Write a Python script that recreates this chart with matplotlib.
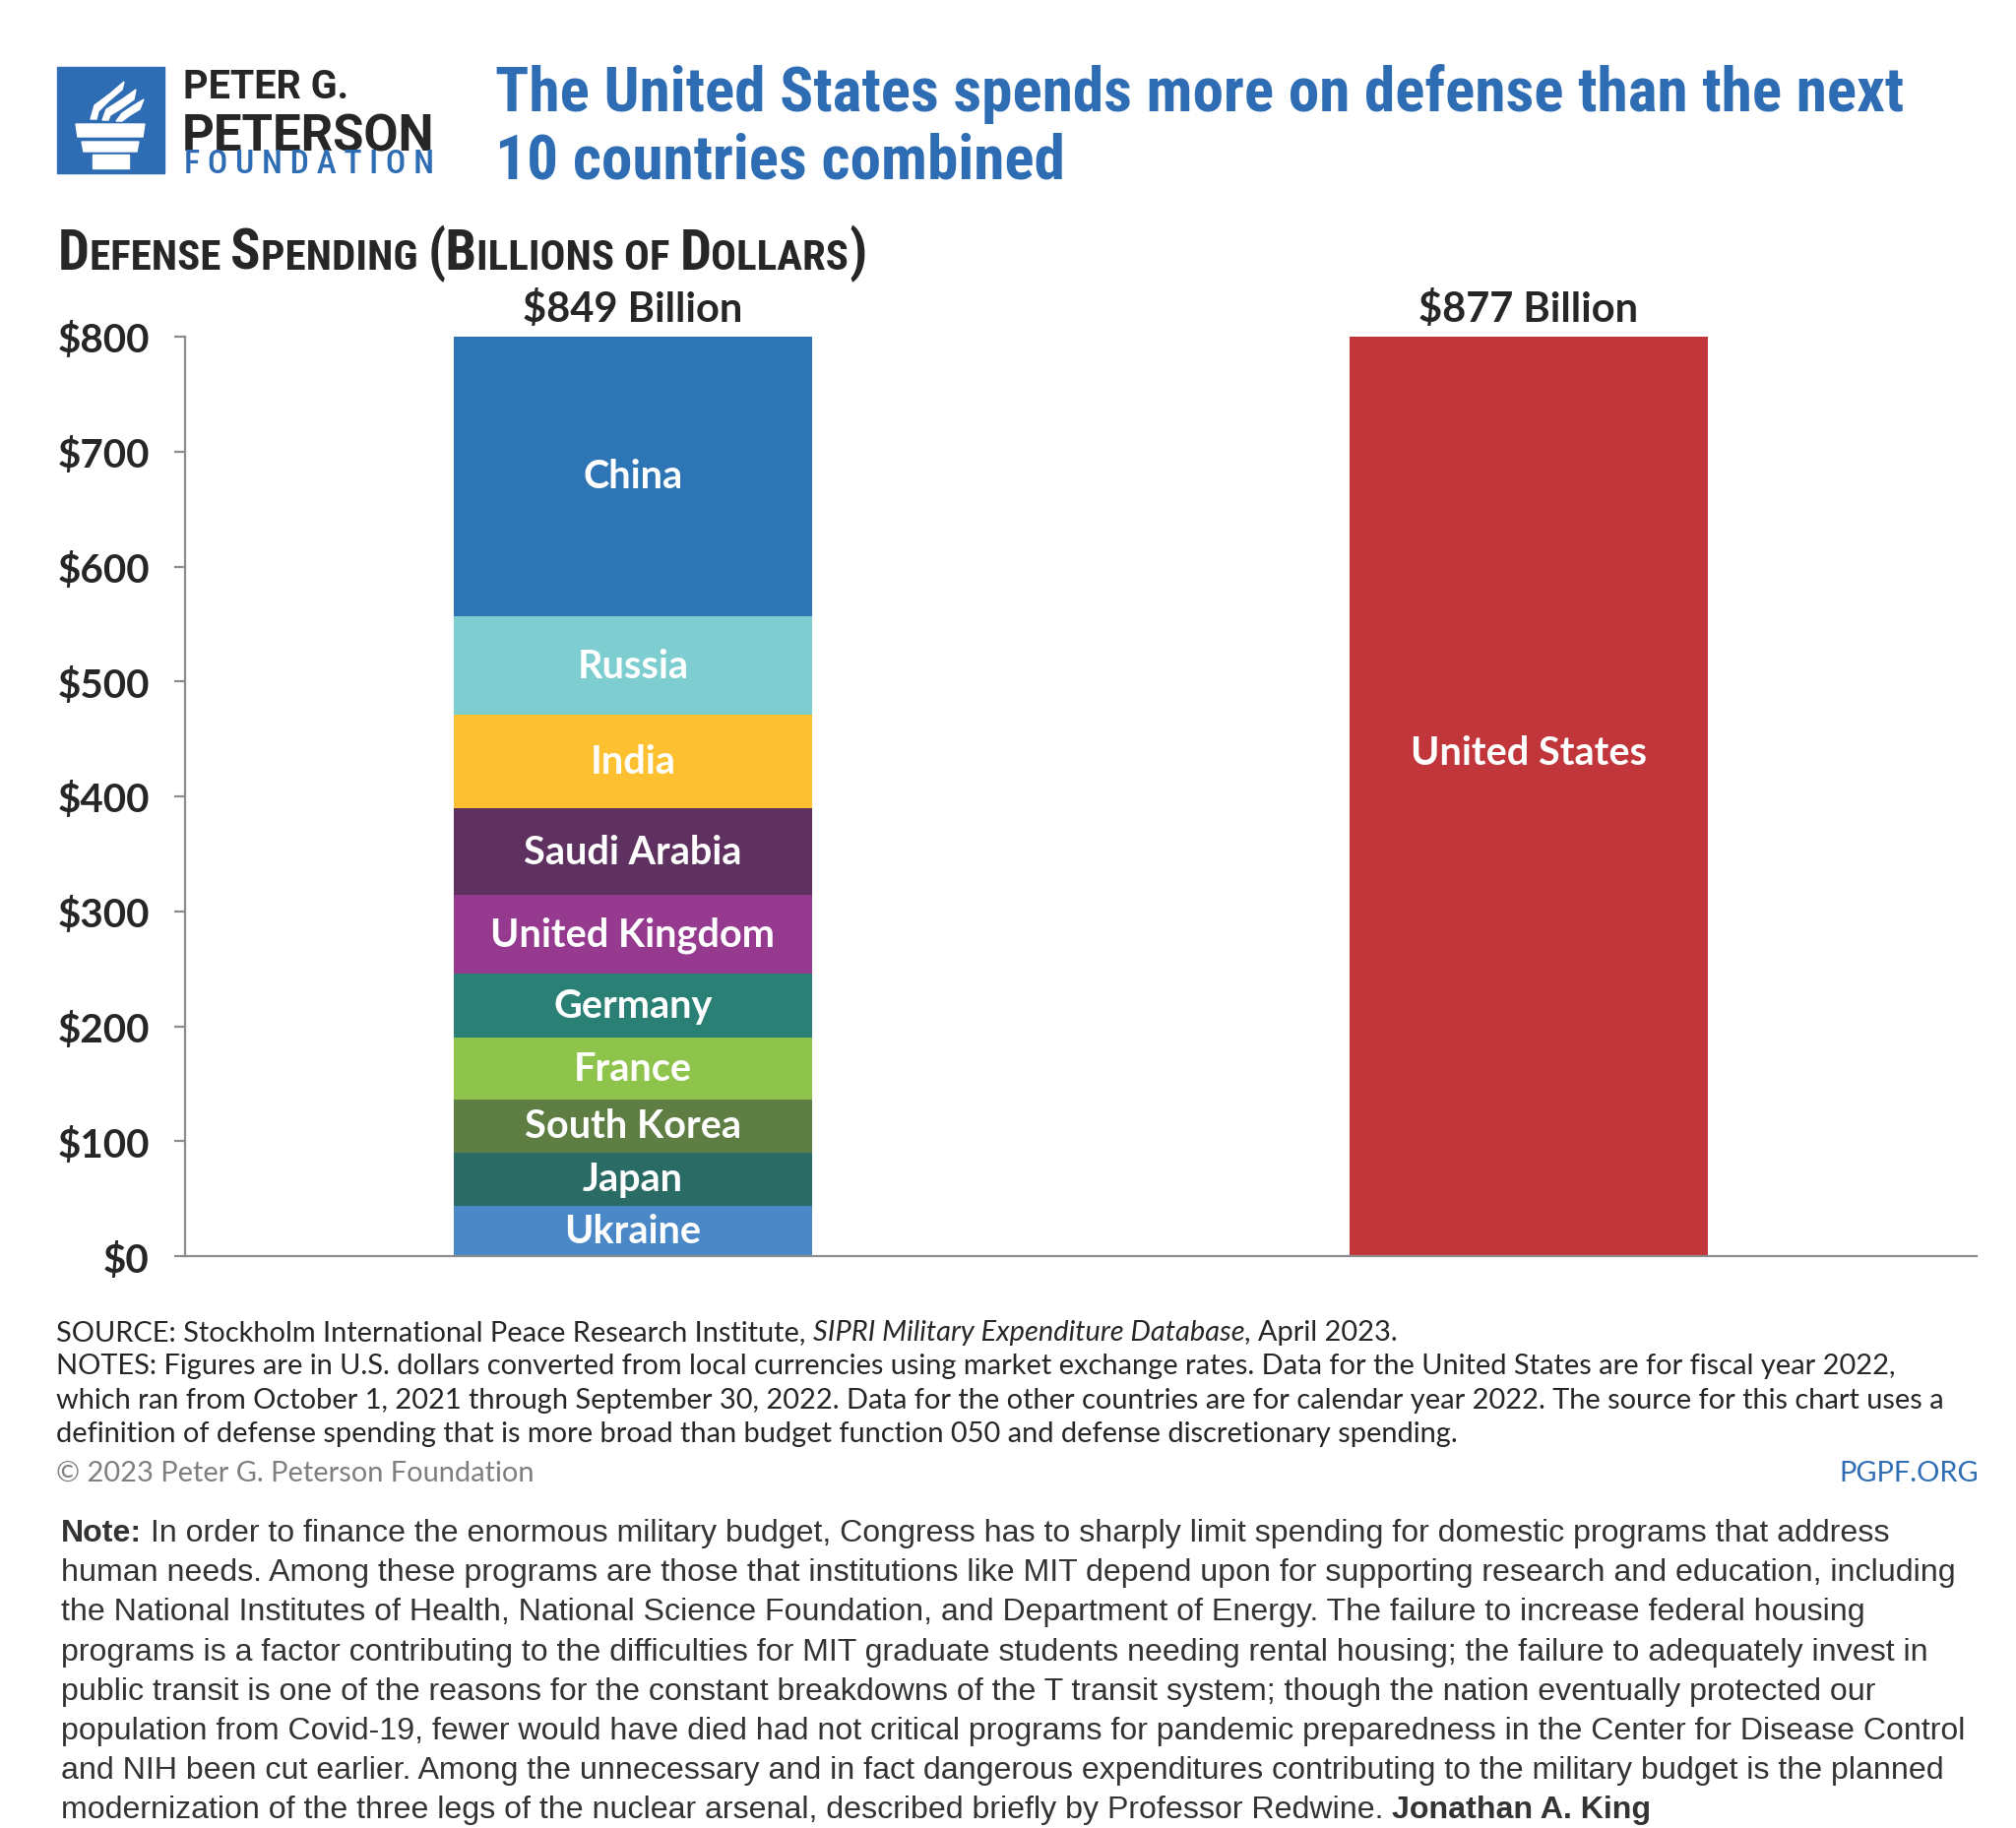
import numpy as np
import matplotlib
matplotlib.use("Agg")
import matplotlib.pyplot as plt
from matplotlib import font_manager
from matplotlib.patches import Rectangle, Polygon

# data (billions of dollars, 2022)
countries = ["Ukraine", "Japan", "South Korea", "France", "Germany",
             "United Kingdom", "Saudi Arabia", "India", "Russia", "China"]
spending = [44.0, 46.0, 46.4, 53.6, 55.8, 68.5, 75.0, 81.4, 86.4, 292.0]
seg_colors = ["#4a88c8", "#2b6b65", "#5e7e44", "#8fc44c", "#2a8074",
              "#953a8f", "#5e3160", "#fcc030", "#7ecdd0", "#2e75b6"]
us_label = "United States"
us_spending = 877.0
us_color = "#c1363a"
bar_totals = ["$849 Billion", "$877 Billion"]
yticks = [0, 100, 200, 300, 400, 500, 600, 700, 800]
ytick_labels = ["$" + str(v) for v in yticks]

title_lines = ["The United States spends more on defense than the next",
               "10 countries combined"]

source_lines = [
    [("SOURCE: Stockholm International Peace Research Institute, ", "normal"),
     ("SIPRI Military Expenditure Database", "italic"),
     (", April 2023.", "normal")],
    [("NOTES: Figures are in U.S. dollars converted from local currencies using market exchange rates. Data for the United States are for fiscal year 2022,", "normal")],
    [("which ran from October 1, 2021 through September 30, 2022. Data for the other countries are for calendar year 2022. The source for this chart uses a", "normal")],
    [("definition of defense spending that is more broad than budget function 050 and defense discretionary spending.", "normal")],
]
note_lines = [
    [("Note:", "bold"), (" In order to finance the enormous military budget, Congress has to sharply limit spending for domestic programs that address", "normal")],
    [("human needs. Among these programs are those that institutions like MIT depend upon for supporting research and education, including", "normal")],
    [("the National Institutes of Health, National Science Foundation, and Department of Energy. The failure to increase federal housing", "normal")],
    [("programs is a factor contributing to the difficulties for MIT graduate students needing rental housing; the failure to adequately invest in", "normal")],
    [("public transit is one of the reasons for the constant breakdowns of the T transit system; though the nation eventually protected our", "normal")],
    [("population from Covid-19, fewer would have died had not critical programs for pandemic preparedness in the Center for Disease Control", "normal")],
    [("and NIH been cut earlier. Among the unnecessary and in fact dangerous expenditures contributing to the military budget is the planned", "normal")],
    [("modernization of the three legs of the nuclear arsenal, described briefly by Professor Redwine. ", "normal"), ("Jonathan A. King", "bold")],
]

W, H = 2048, 1858
BLUE = "#2e6db4"
DARK = "#262626"

names = {f.name for f in font_manager.fontManager.ttflist}


def pick(*cands):
    for c in cands:
        if c in names:
            return c
    return "DejaVu Sans"


NARROW = pick("Liberation Sans Narrow", "Roboto Condensed", "Roboto")
ROBOTO = pick("Roboto")
LATO = pick("Lato")
HELV = pick("Liberation Sans")

fig = plt.figure(figsize=(W / 100, H / 100), dpi=100)
fig.patch.set_facecolor("white")
renderer = fig.canvas.get_renderer()


def fx(x):
    return x / W


def fy(y):
    return 1 - y / H


def text_width(s, size, **kw):
    t = fig.text(0, 0, s, fontsize=size, **kw)
    w = t.get_window_extent(renderer).width
    t.remove()
    return w


def fit(s, width, **kw):
    return 20 * width / text_width(s, 20, **kw)


def draw_runs(x, y, runs, size, family, color):
    # runs of text drawn one after another on a shared baseline
    for s, style in runs:
        kw = dict(family=family, color=color, fontsize=size)
        if style == "bold":
            kw["fontweight"] = "bold"
        elif style == "italic":
            kw["fontstyle"] = "italic"
        t = fig.text(fx(x), fy(y), s, va="baseline", ha="left", **kw)
        x += t.get_window_extent(renderer).width
    return x


# ---- logo ----
logo = fig.add_axes([0, 0, 1, 1], zorder=-1)
logo.set_xlim(0, W)
logo.set_ylim(H, 0)
logo.axis("off")
logo.add_patch(Rectangle((58, 69), 109, 108, color=BLUE))
logo.add_patch(Polygon([(77, 127), (147, 127), (145, 140), (79, 140)], color="white"))
logo.add_patch(Polygon([(83, 145), (141, 145), (139, 155), (85, 155)], color="white"))
logo.add_patch(Polygon([(94, 158), (131, 158), (131, 172), (94, 172)], color="white"))
flames = [
    [(92, 122), (96, 108), (112, 96), (126, 84), (124, 92), (110, 104), (100, 114), (98, 122)],
    [(104, 123), (108, 112), (124, 102), (138, 92), (136, 102), (122, 112), (112, 118), (110, 123)],
    [(118, 124), (124, 116), (136, 108), (146, 102), (142, 112), (132, 118), (124, 124)],
]
for fl in flames:
    logo.add_patch(Polygon(fl, closed=True, color="white"))

s = fit("PETER G.", 168, family=ROBOTO, fontweight="bold")
fig.text(fx(186), fy(100), "PETER G.", fontsize=s, family=ROBOTO, fontweight="bold",
         color=DARK, va="baseline")
s = fit("PETERSON", 256, family=ROBOTO, fontweight="bold")
fig.text(fx(185), fy(154), "PETERSON", fontsize=s, family=ROBOTO, fontweight="bold",
         color=DARK, va="baseline")
found = " ".join("FOUNDATION")
s = fit(found, 254, family=NARROW, fontweight="medium")
fig.text(fx(187), fy(176), found, fontsize=s, family=NARROW, fontweight="medium",
         color=BLUE, va="baseline")

# ---- title ----
ts = fit(title_lines[0], 1427, family=NARROW, fontweight="bold")
fig.text(fx(503), fy(113), title_lines[0], fontsize=ts, family=NARROW,
         fontweight="bold", color=BLUE, va="baseline")
fig.text(fx(503), fy(182), title_lines[1], fontsize=ts, family=NARROW,
         fontweight="bold", color=BLUE, va="baseline")

# ---- subtitle in small caps ----
sc_runs = [("D", 1.0), ("EFENSE ", 0.76), ("S", 1.0), ("PENDING ", 0.76),
           ("(B", 1.0), ("ILLIONS OF ", 0.76), ("D", 1.0), ("OLLARS", 0.76), (")", 1.0)]
tot = sum(text_width(p, 30 * r, family=NARROW, fontweight="bold") for p, r in sc_runs)
big = 30 * 820 / tot
x = 59
for part, r in sc_runs:
    t = fig.text(fx(x), fy(274), part, fontsize=big * r, family=NARROW, fontweight="bold",
                 color=DARK, va="baseline")
    x += t.get_window_extent(renderer).width

# ---- chart ----
ax_l, ax_r, ax_t, ax_b = 188, 2008, 343, 1277
ax = fig.add_axes([fx(ax_l), fy(ax_b), (ax_r - ax_l) / W, (ax_b - ax_t) / H])
ax.set_xlim(0, 4)
ax.set_ylim(0, 800)

bottom = 0.0
for name, val, col in zip(countries, spending, seg_colors):
    ax.bar(1, val, width=0.8, bottom=bottom, color=col, linewidth=0)
    top_vis = min(bottom + val, 800)
    ax.text(1, (bottom + top_vis) / 2, name, ha="center", va="center",
            color="white", fontsize=28.5, family=LATO, fontweight="bold")
    bottom += val
ax.bar(3, us_spending, width=0.8, color=us_color, linewidth=0)
ax.text(3, us_spending / 2, us_label, ha="center", va="center", color="white",
        fontsize=28.5, family=LATO, fontweight="bold")

for xpos, lab in zip([1, 3], bar_totals):
    ax.annotate(lab, (xpos, 800), xytext=(0, 16), textcoords="offset pixels",
                ha="center", va="baseline", fontsize=30, family=LATO,
                fontweight="bold", color=DARK, annotation_clip=False)

ax.set_yticks(yticks)
ax.set_yticklabels(ytick_labels, family=LATO, fontweight="bold", fontsize=29, color=DARK)
ax.set_xticks([])
for side in ["top", "right"]:
    ax.spines[side].set_visible(False)
for side in ["left", "bottom"]:
    ax.spines[side].set_color("#8c8c8c")
    ax.spines[side].set_linewidth(1.6)
ax.tick_params(axis="y", length=8, width=1.6, color="#8c8c8c", pad=18)
ax.patch.set_alpha(0)

# ---- source and notes ----
fs = fit(source_lines[2][0][0], 1924, family=LATO)
base = 1362
for i, runs in enumerate(source_lines):
    draw_runs(57, base + i * 34.3, runs, fs, LATO, DARK)
fig.text(fx(57), fy(1505), "\u00a9 2023 Peter G. Peterson Foundation", fontsize=fs,
         family=LATO, color="#7f7f7f", va="baseline")
fig.text(fx(2010), fy(1505), "PGPF.ORG", fontsize=fs, family=LATO, color=BLUE,
         va="baseline", ha="right")

ns = fit(note_lines[5][0][0], 1931, family=HELV)
for i, runs in enumerate(note_lines):
    draw_runs(62, 1566 + i * 40.2, runs, ns, HELV, "#333333")

fig.savefig("out.png", dpi=100, facecolor="white")
